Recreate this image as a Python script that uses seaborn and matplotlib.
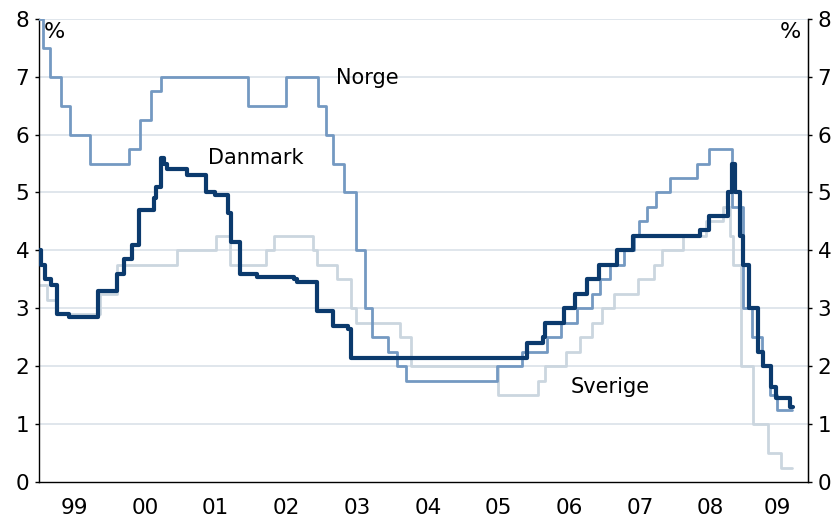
import matplotlib
matplotlib.use("Agg")
import matplotlib.pyplot as plt
import seaborn as sns
import pandas as pd

# ---- data (decimal years, policy rate in %) ----
dk_t = [1999.00, 1999.03, 1999.085, 1999.165, 1999.26, 1999.43, 1999.83, 2000.10, 2000.20,
        2000.32, 2000.42, 2000.63, 2000.65, 2000.72, 2000.77, 2000.81, 2001.10, 2001.36,
        2001.49, 2001.67, 2001.71, 2001.84, 2002.08, 2002.60, 2002.645, 2002.93, 2003.16,
        2003.375, 2003.41, 2005.90, 2006.125, 2006.16, 2006.43, 2006.58, 2006.75, 2006.925,
        2007.18, 2007.40, 2008.35, 2008.48, 2008.75, 2008.80, 2008.845, 2008.92, 2008.96,
        2009.04, 2009.17, 2009.245, 2009.35, 2009.42, 2009.62, 2009.66]
dk_r = [4.0, 3.75, 3.5, 3.4, 2.9, 2.85, 3.3, 3.6, 3.85,
        4.1, 4.7, 4.9, 5.1, 5.6, 5.5, 5.4, 5.3, 5.0,
        4.95, 4.65, 4.15, 3.6, 3.55, 3.5, 3.45, 2.95, 2.7,
        2.65, 2.15, 2.4, 2.5, 2.75, 3.0, 3.25, 3.5, 3.75,
        4.0, 4.25, 4.35, 4.6, 5.0, 5.5, 5.0, 4.25, 3.75,
        3.0, 2.25, 2.0, 1.65, 1.45, 1.3, 1.3]

no_t = [1999.00, 1999.06, 1999.155, 1999.31, 1999.44, 1999.72, 2000.28, 2000.43, 2000.59,
        2000.72, 2001.95, 2002.49, 2002.94, 2003.055, 2003.16, 2003.31, 2003.48, 2003.61,
        2003.705, 2003.94, 2004.07, 2004.19, 2005.48, 2005.83, 2006.185, 2006.38, 2006.605,
        2006.82, 2006.935, 2007.075, 2007.27, 2007.415, 2007.485, 2007.595, 2007.72, 2007.93,
        2008.30, 2008.47, 2008.80, 2008.96, 2009.09, 2009.23, 2009.34, 2009.44, 2009.65]
no_r = [8.0, 7.5, 7.0, 6.5, 6.0, 5.5, 5.75, 6.25, 6.75,
        7.0, 6.5, 7.0, 6.5, 6.0, 5.5, 5.0, 4.0, 3.0,
        2.5, 2.25, 2.0, 1.75, 2.0, 2.25, 2.5, 2.75, 3.0,
        3.25, 3.5, 3.75, 4.0, 4.25, 4.5, 4.75, 5.0, 5.25,
        5.5, 5.75, 4.75, 3.0, 2.5, 2.0, 1.5, 1.25, 1.25]

se_t = [1999.00, 1999.11, 1999.24, 1999.86, 2000.10, 2000.95, 2001.51, 2001.70, 2002.21,
        2002.32, 2002.88, 2002.93, 2003.21, 2003.42, 2003.49, 2004.105, 2004.26, 2005.49,
        2006.06, 2006.16, 2006.46, 2006.65, 2006.82, 2006.96, 2007.13, 2007.475, 2007.70,
        2007.81, 2008.11, 2008.43, 2008.68, 2008.77, 2008.82, 2008.925, 2009.10, 2009.305,
        2009.50, 2009.645]
se_r = [3.4, 3.15, 2.9, 3.25, 3.75, 4.0, 4.25, 3.75, 4.0,
        4.25, 4.0, 3.75, 3.5, 3.0, 2.75, 2.5, 2.0, 1.5,
        1.75, 2.0, 2.25, 2.5, 2.75, 3.0, 3.25, 3.5, 3.75,
        4.0, 4.25, 4.5, 4.75, 4.25, 3.75, 2.0, 1.0, 0.5,
        0.25, 0.25]

year_labels = ["99", "00", "01", "02", "03", "04", "05", "06", "07", "08", "09"]
y_ticks = [0, 1, 2, 3, 4, 5, 6, 7, 8]

c_dk = "#0b3a6d"
c_no = "#7499c2"
c_se = "#cbd6df"
grid_c = "#dde4ea"

sns.set_style("white")
plt.rcParams["font.family"] = ["DejaVu Sans"]
plt.rcParams["text.color"] = "black"
plt.rcParams["xtick.color"] = "black"
plt.rcParams["ytick.color"] = "black"
plt.rcParams["xtick.labelcolor"] = "black"
plt.rcParams["ytick.labelcolor"] = "black"

fig = plt.figure(figsize=(8.31, 5.17), dpi=100)
ax = fig.add_axes([39 / 831, 1 - 482.3 / 517, (808 - 39) / 831, (482.3 - 18.6) / 517])

x0, x1 = 1999.0, 2009.877
ax.set_xlim(x0, x1)
ax.set_ylim(0, 8)

for y in y_ticks[1:]:
    ax.axhline(y, color=grid_c, lw=1.3, zorder=0)

df_se = pd.DataFrame({"t": se_t, "r": se_r})
df_no = pd.DataFrame({"t": no_t, "r": no_r})
df_dk = pd.DataFrame({"t": dk_t, "r": dk_r})
sns.lineplot(data=df_se, x="t", y="r", ax=ax, color=c_se, lw=2.0, drawstyle="steps-post",
             estimator=None, sort=False, zorder=2)
sns.lineplot(data=df_no, x="t", y="r", ax=ax, color=c_no, lw=2.0, drawstyle="steps-post",
             estimator=None, sort=False, zorder=3)
sns.lineplot(data=df_dk, x="t", y="r", ax=ax, color=c_dk, lw=3.0, drawstyle="steps-post",
             estimator=None, sort=False, zorder=4)

ax.set_xlabel("")
ax.set_ylabel("")

# x axis: year boundaries as ticks, labels centred in each year
years = list(range(1999, 2010))
ax.set_xticks(years)
ax.set_xticklabels([])
mids = [y + 0.5 for y in range(1999, 2009)] + [(2009 + x1) / 2]
ax.set_xticks(mids, minor=True)
ax.set_xticklabels(year_labels, minor=True, fontsize=15.5)
ax.tick_params(axis="x", which="major", direction="out", length=4, width=1, color="black")
ax.tick_params(axis="x", which="minor", length=0, pad=11)

ax.set_yticks(y_ticks)
ax.set_yticklabels([str(v) for v in y_ticks], fontsize=15.5)
ax.tick_params(axis="y", direction="out", length=3, width=1, color="black", pad=4)

ax.spines["top"].set_visible(False)
for s in ["left", "right", "bottom"]:
    ax.spines[s].set_color("black")
    ax.spines[s].set_linewidth(1.0)

ax2 = ax.twinx()
ax2.set_ylim(0, 8)
ax2.set_yticks(y_ticks)
ax2.set_yticklabels([str(v) for v in y_ticks], fontsize=15.5)
ax2.tick_params(axis="y", direction="out", length=3, width=1, color="black", pad=4)
ax2.spines["top"].set_visible(False)
ax2.spines["left"].set_visible(False)
ax2.spines["bottom"].set_visible(False)
ax2.spines["right"].set_color("black")
ax2.grid(False)

ax.text(0.006, 0.992, "%", transform=ax.transAxes, fontsize=16, ha="left", va="top")
ax.text(0.991, 0.992, "%", transform=ax.transAxes, fontsize=16, ha="right", va="top")

ax.text(2003.64, 6.98, "Norge", fontsize=15, ha="center", va="center")
ax.text(2002.07, 5.6, "Danmark", fontsize=15, ha="center", va="center")
ax.text(2007.08, 1.65, "Sverige", fontsize=15, ha="center", va="center")

fig.savefig("out.png", dpi=100)
